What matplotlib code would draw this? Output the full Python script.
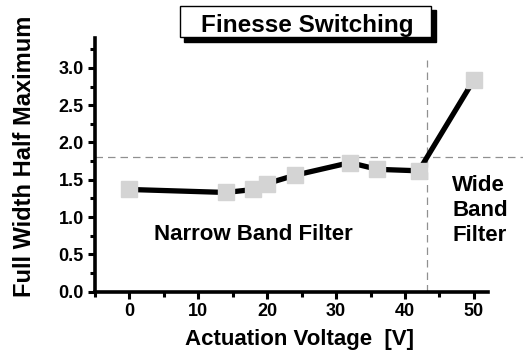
import matplotlib
matplotlib.use("Agg")
import matplotlib.pyplot as plt
from matplotlib.patches import Rectangle
from matplotlib.ticker import MultipleLocator

plt.rcParams['font.family'] = ['Liberation Sans', 'DejaVu Sans']
plt.rcParams['font.weight'] = 'bold'

# data
voltage = [0, 14, 18, 20, 24, 32, 36, 42, 50]
fwhm = [1.37, 1.33, 1.37, 1.45, 1.56, 1.73, 1.64, 1.62, 2.84]
switch_v = 43.2
switch_fwhm = 1.81
x_ticks = [0, 10, 20, 30, 40, 50]
y_ticks = [0.0, 0.5, 1.0, 1.5, 2.0, 2.5, 3.0]

W, H = 523, 351
fig = plt.figure(figsize=(W / 100, H / 100), dpi=100)

def px(x0, y0, x1, y1):
    # pixel box (from top-left) -> figure fraction rect
    return [x0 / W, 1 - y1 / H, (x1 - x0) / W, (y1 - y0) / H]

ax = fig.add_axes(px(95, 38, 487.7, 291.7))
ax.set_xlim(-5, 52)
ax.set_ylim(0, 3.4)

ax.plot(voltage, fwhm, color='black', lw=3.8, zorder=3,
        marker='s', markersize=11, markerfacecolor='#d4d4d4',
        markeredgecolor='#d4d4d4', clip_on=False)

ax.axhline(switch_fwhm, xmin=0, xmax=(W - 95) / (487.7 - 95), color='#909090',
           lw=0.9, ls=(0, (6, 4)), clip_on=False, zorder=1)
ax.plot([switch_v, switch_v], [0, 3.11], color='#909090', lw=0.9,
        ls=(0, (6, 4)), zorder=1)

for s in ['top', 'right']:
    ax.spines[s].set_visible(False)
for s in ['left', 'bottom']:
    ax.spines[s].set_linewidth(2.6)

ax.set_xticks(x_ticks)
ax.set_yticks(y_ticks)
ax.xaxis.set_minor_locator(MultipleLocator(5))
ax.yaxis.set_minor_locator(MultipleLocator(0.25))
ax.tick_params(which='major', length=5, width=2.2, labelsize=13, pad=3)
ax.tick_params(which='minor', length=3.5, width=2.2)
for lab in ax.get_xticklabels() + ax.get_yticklabels():
    lab.set_fontweight('bold')

ax.set_xlabel('Actuation Voltage  [V]', fontsize=16, fontweight='bold')
ax.set_ylabel('Full Width Half Maximum', fontsize=17, fontweight='bold')
ax.xaxis.set_label_coords(0.522, -0.147)
ax.yaxis.set_label_coords(-0.15, 0.535)

ax.text(18, 0.76, 'Narrow Band Filter', fontsize=16, fontweight='bold',
        ha='center', va='center')
ax.text(46.85, 1.09, 'Wide\nBand\nFilter', fontsize=16, fontweight='bold',
        ha='left', va='center', linespacing=1.26)

# title box with shadow
sh = px(184, 10, 435.7, 42)
fig.patches.append(Rectangle(sh[:2], sh[2], sh[3], transform=fig.transFigure,
                             facecolor='black', edgecolor='black'))
bx = px(179.5, 6, 431, 37)
fig.patches.append(Rectangle(bx[:2], bx[2], bx[3], transform=fig.transFigure,
                             facecolor='white', edgecolor='black', lw=1))
fig.text(307 / W, 1 - 32 / H, 'Finesse Switching', fontsize=17.5,
         fontweight='bold', ha='center', va='baseline')

fig.savefig('out.png', dpi=100)
